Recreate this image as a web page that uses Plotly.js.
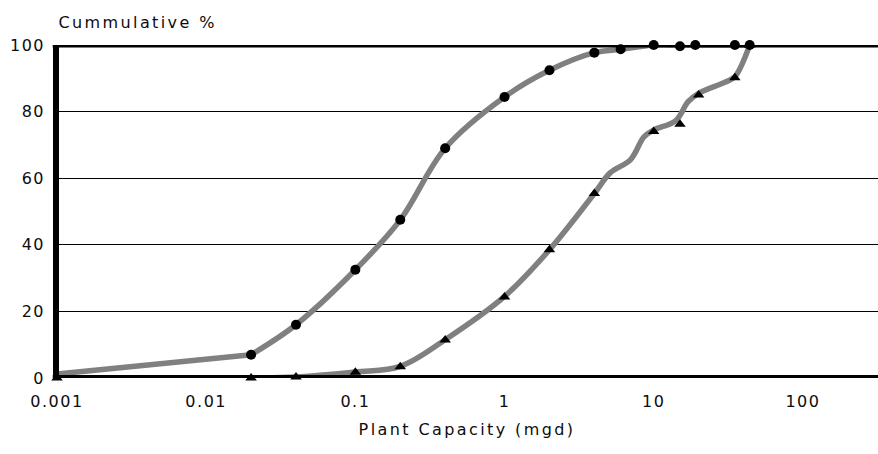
<!DOCTYPE html>
<html>
<head>
<meta charset="utf-8">
<script src="https://cdn.plot.ly/plotly-3.0.1.min.js"></script>
<style>
  html, body { margin: 0; padding: 0; background: #fff; }
  #chart .xtick text, #chart .ytick text { letter-spacing: 1.5px; }
  #chart .annotation-text, #chart .g-xtitle text { letter-spacing: 2.4px; }
</style>
</head>
<body>
<div id="chart" style="width:878px;height:454px;"></div>
<script>
// ---- Data ----
// Series A (circles): plant capacity (mgd) vs cumulative %
const circleCapacity = [0.02, 0.04, 0.1, 0.2, 0.4, 1, 2, 4, 6, 10, 15, 19, 35, 44];
const circlePercent  = [7, 16, 32.5, 47.5, 69, 84.4, 92.4, 97.7, 98.7, 100, 99.6, 100, 100, 100];
// straight start of the series A curve
const circleTailCapacity = [0.001, 0.02];
const circleTailPercent  = [1.2, 7];
// smoothed curve drawn through series A
const circleCurveCapacity = [0.02, 0.04, 0.1, 0.2, 0.4, 1, 2, 4, 6, 10, 15, 19, 35, 44];
const circleCurvePercent  = [7, 16, 32.5, 47.5, 69, 84.4, 92.4, 97.7, 98.7, 100, 100, 100, 100, 100];

// Series B (triangles)
const triangleCapacity = [0.001, 0.02, 0.04, 0.1, 0.2, 0.4, 1, 2, 4, 10, 15, 20, 35, 44];
const trianglePercent  = [0, 0, 0.3, 1.7, 3.4, 11.4, 24.3, 38.5, 55.4, 74, 76.2, 85, 90.2, 100];
// smoothed curve drawn through series B
const triangleCurveCapacity = [0.001, 0.02, 0.04, 0.1, 0.2, 0.4, 1, 2, 4, 5.1, 7, 8.6, 10, 14, 17, 20, 30, 35, 44];
const triangleCurvePercent  = [0, 0, 0.3, 1.8, 3.5, 11.5, 24.5, 38.5, 55.4, 61.6, 65.6, 72.4, 74.5, 77.2, 83, 85.5, 88.8, 90.5, 100];

// Axis ticks
const xTickValues = [0.001, 0.01, 0.1, 1, 10, 100];
const xTickLabels = ["0.001", "0.01", "0.1", "1", "10", "100"];
const yTickValues = [0, 20, 40, 60, 80, 100];
const yTickLabels = ["0", "20", "40", "60", "80", "100"];

const xTitle = "Plant Capacity (mgd)";
const yTitle = "Cummulative %";

// ---- Styling ----
const FONT = "DejaVu Sans, sans-serif";
const TXT = "#0d0d0d";
const curveStyle = {color: "#808080", width: 5.5, shape: "spline", smoothing: 1};
const tailStyle = {color: "#808080", width: 5.5, shape: "linear"};

const traces = [
  {x: circleTailCapacity, y: circleTailPercent, mode: "lines", line: tailStyle,
   hoverinfo: "skip", showlegend: false, cliponaxis: false},
  {x: circleCurveCapacity, y: circleCurvePercent, mode: "lines", line: curveStyle,
   hoverinfo: "skip", showlegend: false, cliponaxis: false},
  {x: triangleCurveCapacity, y: triangleCurvePercent, mode: "lines", line: curveStyle,
   hoverinfo: "skip", showlegend: false, cliponaxis: false},
  {x: circleCapacity, y: circlePercent, mode: "markers",
   marker: {symbol: "circle", size: 10, color: "#000"}, showlegend: false, cliponaxis: false},
  {x: triangleCapacity, y: trianglePercent, mode: "markers",
   marker: {symbol: "triangle-up", size: 10, color: "#000"}, showlegend: false, cliponaxis: false}
];

const layout = {
  width: 878, height: 454,
  margin: {l: 56, r: 0, t: 45, b: 76, pad: 0},
  paper_bgcolor: "#fff", plot_bgcolor: "#fff",
  showlegend: false,
  font: {family: FONT, size: 16, color: TXT},
  xaxis: {
    type: "log",
    range: [-3.0067, 2.5034],
    tickmode: "array", tickvals: xTickValues, ticktext: xTickLabels,
    showgrid: false, zeroline: false, showline: false, ticks: "",
    ticklabelstandoff: 12,
    tickfont: {family: FONT, size: 16, color: TXT},
    title: {text: xTitle, font: {family: FONT, size: 16, color: TXT}, standoff: 13}
  },
  yaxis: {
    range: [0, 100],
    tickmode: "array", tickvals: yTickValues, ticktext: yTickLabels,
    showgrid: true, gridcolor: "#000", gridwidth: 1,
    zeroline: false, showline: false, ticks: "",
    ticklabelstandoff: 10,
    tickfont: {family: FONT, size: 16, color: TXT}
  },
  shapes: [
    {type: "line", layer: "above", xref: "paper", yref: "y", x0: -0.004, x1: 1, y0: 0, y1: 0,
     line: {color: "#000", width: 6}},
    {type: "line", layer: "above", xref: "paper", yref: "y", x0: -0.004, x1: 1, y0: 100, y1: 100,
     line: {color: "#000", width: 5}},
    {type: "line", layer: "above", xref: "paper", yref: "y", x0: 0, x1: 0, y0: 0, y1: 100,
     line: {color: "#000", width: 6}}
  ],
  annotations: [
    {text: yTitle, xref: "paper", yref: "paper", x: 0, xanchor: "left", xshift: 16,
     y: 1.069, yanchor: "middle", showarrow: false,
     font: {family: FONT, size: 16, color: TXT}}
  ]
};

Plotly.newPlot("chart", traces, layout, {staticPlot: true, displayModeBar: false});
</script>
</body>
</html>
